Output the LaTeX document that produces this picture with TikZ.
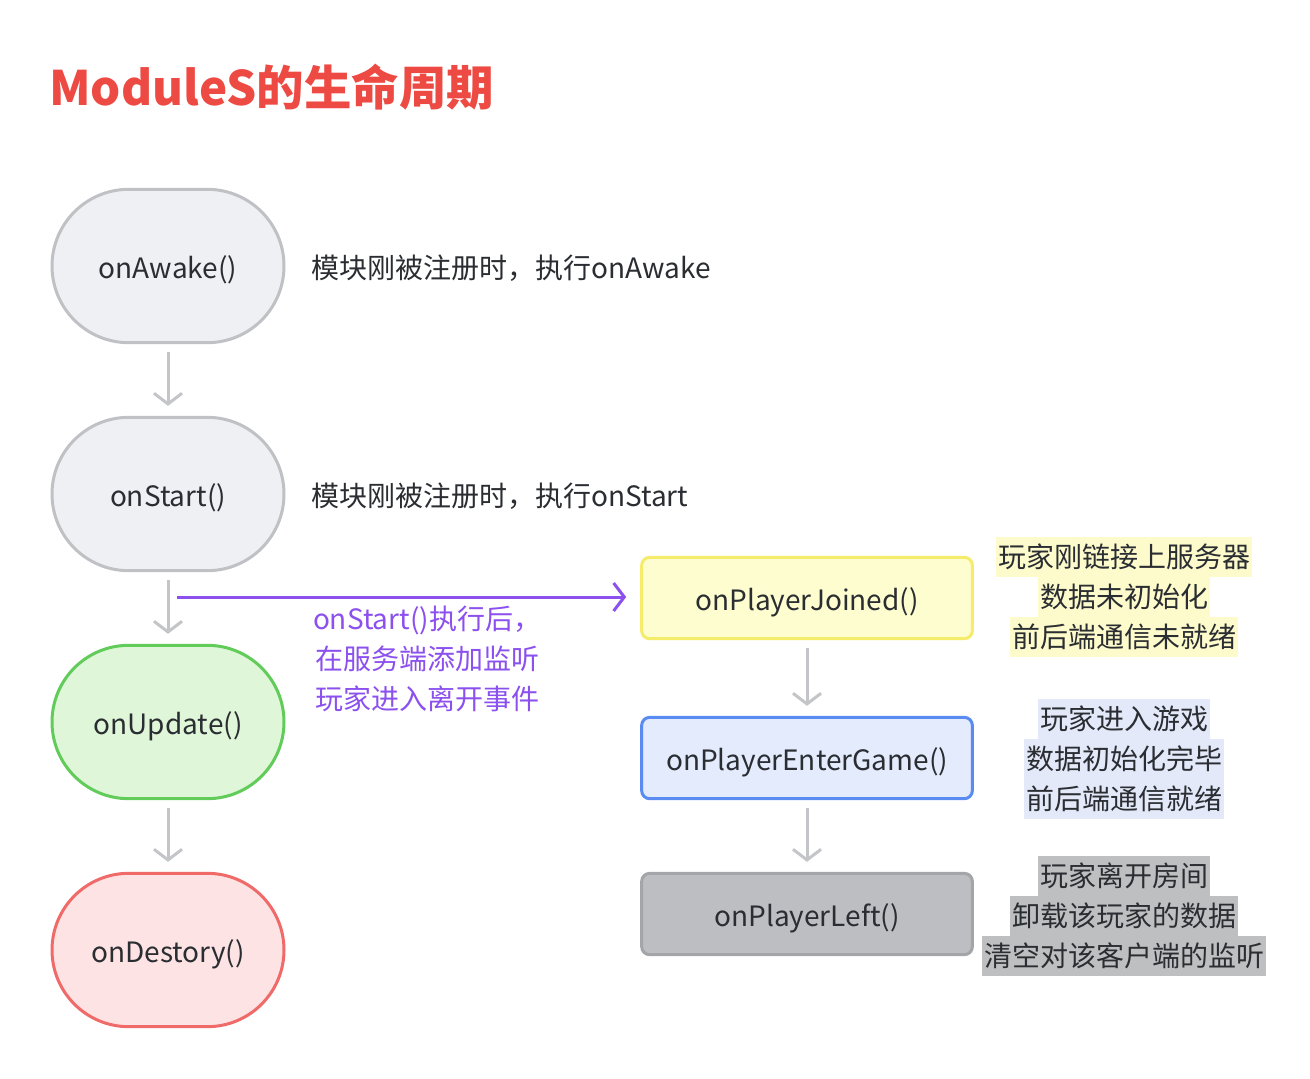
\documentclass[tikz,border=0pt]{standalone}
\usepackage{fontspec}
\setmainfont{Noto Sans CJK SC}
\usetikzlibrary{arrows.meta}
\definecolor{txt}{HTML}{2A2D31}
\definecolor{titlered}{HTML}{EE4A44}
\definecolor{purp}{HTML}{8B50EE}
\definecolor{arrgray}{HTML}{C4C5C8}
\definecolor{sgfill}{HTML}{EEF0F3}\definecolor{sgdraw}{HTML}{BFC1C5}
\definecolor{sgrfill}{HTML}{DFF6D9}\definecolor{sgrdraw}{HTML}{62CC5A}
\definecolor{srfill}{HTML}{FDE3E3}\definecolor{srdraw}{HTML}{EF6A68}
\definecolor{byfill}{HTML}{FEFDCF}\definecolor{bydraw}{HTML}{F6EC6B}
\definecolor{bbfill}{HTML}{E3EBFD}\definecolor{bbdraw}{HTML}{5A8BF1}
\definecolor{bgfill}{HTML}{BCBEC2}\definecolor{bgdraw}{HTML}{A3A5A9}
\definecolor{hly}{HTML}{FDFBCC}
\definecolor{hlb}{HTML}{E4E9FA}
\definecolor{hlg}{HTML}{BEBFC1}
\begin{document}
\begin{tikzpicture}[x=0.75pt,y=-0.75pt,
  font=\fontsize{21}{30}\selectfont, text=txt,
  stadium/.style={minimum width=174pt, minimum height=115pt, rounded corners=57.5pt, line width=2.25pt, inner sep=0pt, text height=18pt, text depth=0pt},
  pbox/.style={minimum width=248pt, minimum height=61pt, rounded corners=6pt, line width=2.25pt, inner sep=0pt, text height=18pt, text depth=0pt},
  garrow/.style={draw=arrgray, line width=2.25pt, -{Straight Barb[length=8pt,width=21pt,line width=2.25pt]}},
  parrow/.style={draw=purp, line width=2.25pt, -{Straight Barb[length=8pt,width=21pt,line width=2.25pt]}},
  hl/.style={minimum height=30pt, inner ysep=0pt, inner xsep=1.5pt},
  desc/.style={anchor=west, inner sep=0pt}
]
\useasboundingbox[fill=white] (0,0) rectangle (1310,1078);

\node[anchor=west, inner sep=0pt, text=titlered, font=\fontsize{35.6}{40}\selectfont\bfseries] (title) at (49,87) {ModuleS的生命周期};

\node[stadium, fill=sgfill, draw=sgdraw] (awake) at (168,266) {onAwake()};
\node[stadium, fill=sgfill, draw=sgdraw] (start) at (168,494) {onStart()};
\node[stadium, fill=sgrfill, draw=sgrdraw] (update) at (168,722) {onUpdate()};
\node[stadium, fill=srfill, draw=srdraw] (destroy) at (168,950) {onDestory()};

\draw[garrow] ([yshift=-6pt]awake.south) -- ([yshift=7.5pt]start.north);
\draw[garrow] ([yshift=-6pt]start.south) -- ([yshift=7.5pt]update.north);
\draw[garrow] ([yshift=-6pt]update.south) -- ([yshift=7.5pt]destroy.north);

\node[desc] (d1) at (311,268) {模块刚被注册时，执行onAwake};
\node[desc] (d2) at (311,496) {模块刚被注册时，执行onStart};

\node[pbox, fill=byfill, draw=bydraw] (joined) at (807,598) {onPlayerJoined()};
\node[pbox, fill=bbfill, draw=bbdraw] (enter) at (807,758) {onPlayerEnterGame()};
\node[pbox, fill=bgfill, draw=bgdraw] (left) at (807,914) {onPlayerLeft()};

\draw[garrow] ([yshift=-6pt]joined.south) -- ([yshift=7.5pt]enter.north);
\draw[garrow] ([yshift=-6pt]enter.south) -- ([yshift=7.5pt]left.north);

\coordinate (ps) at (177,597);
\draw[parrow] (ps) -- ([xshift=-10.5pt]joined.west |- ps);
\node[align=center, text=purp, inner sep=0pt] (pt) at (427,659) {onStart()执行后，\\在服务端添加监听\\玩家进入离开事件};

\node[hl, fill=hly] (j1) at (1124,557) {玩家刚链接上服务器};
\node[hl, fill=hly] (j2) at (1124,597) {数据未初始化};
\node[hl, fill=hly] (j3) at (1124,637) {前后端通信未就绪};

\node[hl, fill=hlb] (e1) at (1124,719) {玩家进入游戏};
\node[hl, fill=hlb] (e2) at (1124,759) {数据初始化完毕};
\node[hl, fill=hlb] (e3) at (1124,799) {前后端通信就绪};

\node[hl, fill=hlg] (l1) at (1124,876) {玩家离开房间};
\node[hl, fill=hlg] (l2) at (1124,916) {卸载该玩家的数据};
\node[hl, fill=hlg] (l3) at (1124,956) {清空对该客户端的监听};
\end{tikzpicture}
\end{document}
